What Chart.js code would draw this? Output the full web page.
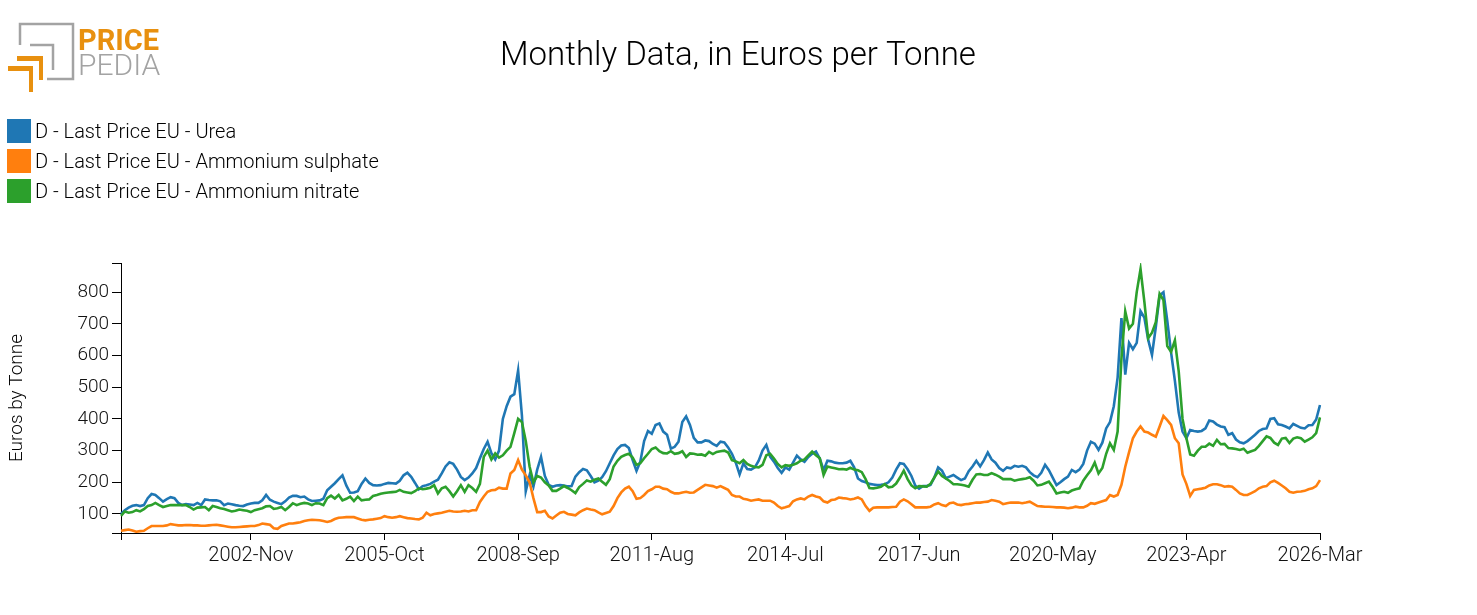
<!DOCTYPE html>
<html>
<head>
<meta charset="utf-8">
<script src="https://cdn.jsdelivr.net/npm/chart.js@4.4.1/dist/chart.umd.min.js"></script>
<style>
  body { margin: 0; background: #fff; }
  #wrap { width: 1477px; height: 615px; position: relative; }
</style>
</head>
<body>
<div id="wrap"><canvas id="chart" width="1477" height="615"></canvas></div>
<script>
// monthly values, 2000-Jan .. 2026-Mar
const urea = [
  100, 112, 120, 126, 128, 125, 128, 150, 163, 160, 150, 139,
  147, 153, 150, 135, 128, 131, 130, 128, 135, 128, 146, 144,
  143, 143, 140, 128, 133, 131, 128, 126, 125, 130, 133, 135,
  135, 143, 160, 145, 139, 135, 131, 140, 152, 157, 157, 153,
  155, 146, 141, 142, 143, 148, 175, 186, 197, 210, 222, 190,
  167, 168, 172, 195, 212, 198, 191, 190, 191, 195, 198, 197,
  196, 205, 222, 230, 217, 198, 178, 188, 191, 195, 202, 208,
  228, 250, 263, 258, 240, 217, 207, 215, 228, 245, 276, 305,
  328, 292, 272, 300, 400, 440, 470, 478, 553, 410, 172, 222,
  186, 240, 280, 220, 192, 186, 190, 191, 190, 187, 188, 218,
  232, 242, 238, 220, 200, 205, 216, 235, 260, 285, 305, 316,
  318, 308, 270, 236, 265, 330, 362, 353, 381, 386, 360, 350,
  306, 312, 328, 390, 408, 381, 340, 326, 326, 332, 330, 321,
  315, 328, 326, 310, 290, 262, 225, 260, 242, 240, 247, 268,
  300, 318, 281, 265, 245, 230, 247, 240, 262, 284, 272, 265,
  280, 290, 297, 275, 238, 268, 266, 262, 260, 260, 262, 268,
  247, 212, 204, 200, 195, 193, 191, 192, 194, 200, 215, 240,
  260, 258, 241, 220, 190, 180, 188, 188, 192, 215, 247, 237,
  213, 218, 223, 215, 207, 212, 235, 250, 268, 250, 270, 294,
  272, 262, 245, 236, 247, 244, 252, 249, 252, 247, 232, 222,
  216, 230, 255, 238, 215, 191, 200, 210, 218, 239, 232, 240,
  258, 300, 328, 322, 302, 325, 370, 390, 440, 530, 718, 540,
  640, 620, 640, 740, 720, 650, 602, 690, 790, 800, 710, 610,
  520, 420, 360, 339, 365, 362, 360, 362, 370, 395, 392, 382,
  376, 374, 350, 355, 335, 326, 323, 330, 340, 350, 362, 368,
  370, 400, 402, 383, 381, 376, 370, 384, 378, 372, 370, 380,
  381, 398, 444
];
const sulphate = [
  47, 49, 51, 48, 44, 46, 47, 55, 62, 62, 62, 62,
  64, 68, 66, 64, 64, 65, 65, 64, 64, 63, 63, 64,
  65, 66, 64, 62, 60, 58, 58, 59, 60, 61, 62, 62,
  65, 70, 68, 66, 55, 53, 62, 66, 70, 70, 72, 74,
  78, 80, 82, 81, 80, 78, 75, 78, 84, 88, 89, 90,
  90, 90, 86, 82, 80, 82, 83, 85, 87, 93, 90, 88,
  90, 93, 90, 87, 86, 84, 83, 88, 104, 96, 100, 102,
  104, 107, 110, 108, 107, 108, 110, 108, 112, 112, 138, 155,
  170, 175, 176, 183, 180, 180, 228, 239, 270, 240, 222, 200,
  150, 106, 106, 110, 92, 86, 95, 104, 107, 100, 98, 96,
  105, 112, 117, 114, 112, 105, 99, 103, 107, 125, 150, 168,
  180, 186, 172, 148, 150, 160, 172, 178, 186, 186, 180, 178,
  170, 165, 165, 168, 170, 167, 168, 176, 184, 192, 190, 188,
  183, 188, 182, 176, 160, 155, 155, 148, 146, 142, 144, 146,
  142, 142, 142, 136, 125, 118, 121, 125, 140, 146, 149, 146,
  155, 160, 155, 152, 140, 136, 144, 146, 152, 150, 149, 146,
  148, 152, 146, 125, 110, 120, 121, 121, 121, 121, 122, 123,
  139, 146, 140, 131, 121, 121, 121, 121, 123, 130, 134, 128,
  125, 134, 136, 130, 128, 131, 132, 134, 136, 136, 138, 139,
  144, 142, 139, 131, 134, 136, 136, 136, 134, 136, 139, 132,
  125, 124, 123, 123, 122, 121, 121, 120, 118, 120, 123, 121,
  121, 126, 134, 132, 136, 140, 144, 160, 155, 160, 192, 249,
  295, 339, 360, 376, 360, 357, 350, 344, 376, 409, 396, 381,
  339, 323, 225, 195, 157, 176, 178, 180, 183, 190, 194, 194,
  191, 186, 188, 186, 176, 165, 160, 160, 166, 172, 181, 186,
  188, 200, 205, 198, 190, 181, 170, 167, 170, 171, 173, 178,
  181, 188, 207
];
const nitrate = [
  94, 108, 104, 106, 112, 108, 115, 125, 128, 135, 128, 122,
  125, 128, 128, 128, 128, 128, 122, 114, 120, 121, 122, 112,
  125, 122, 118, 116, 112, 108, 110, 114, 112, 110, 106, 112,
  115, 118, 124, 125, 116, 118, 122, 112, 122, 134, 128, 132,
  135, 133, 128, 134, 133, 128, 150, 158, 149, 160, 143, 148,
  155, 141, 155, 143, 145, 146, 157, 160, 164, 166, 168, 169,
  170, 176, 170, 168, 166, 172, 181, 178, 180, 183, 191, 165,
  181, 186, 172, 155, 172, 191, 170, 191, 182, 170, 195, 280,
  300, 272, 291, 278, 285, 300, 312, 355, 400, 390, 330, 250,
  200, 220, 215, 200, 190, 173, 173, 180, 188, 182, 175, 166,
  185, 195, 206, 202, 208, 212, 202, 192, 210, 250, 268, 280,
  286, 290, 278, 255, 260, 276, 290, 305, 310, 298, 292, 291,
  298, 290, 292, 298, 280, 291, 290, 287, 288, 284, 296, 289,
  296, 298, 300, 294, 270, 266, 260, 270, 258, 252, 248, 247,
  255, 285, 290, 275, 258, 247, 254, 252, 255, 260, 268, 272,
  285, 297, 285, 276, 223, 250, 247, 244, 241, 242, 240, 246,
  240, 238, 232, 210, 182, 181, 183, 186, 194, 184, 186, 196,
  215, 237, 210, 190, 181, 188, 187, 186, 195, 215, 234, 220,
  212, 204, 194, 194, 192, 190, 186, 208, 225, 226, 223, 223,
  229, 224, 218, 210, 210, 210, 205, 208, 210, 212, 216, 205,
  190, 192, 197, 202, 185, 165, 168, 170, 167, 174, 178, 181,
  205, 222, 238, 262, 228, 245, 290, 323, 302, 360, 590, 739,
  685, 700, 800, 873, 770, 655, 672, 705, 795, 775, 630, 612,
  648, 550, 400, 340, 288, 284, 300, 312, 312, 322, 315, 334,
  320, 321, 308, 307, 305, 302, 306, 293, 298, 302, 315, 330,
  345, 340, 325, 318, 338, 340, 324, 338, 342, 339, 328, 335,
  342, 355, 405
];
const seriesNames = ['D - Last Price EU - Urea', 'D - Last Price EU - Ammonium sulphate', 'D - Last Price EU - Ammonium nitrate'];
const seriesColors = ['#1f77b4', '#ff7f0e', '#2ca02c'];
const tickLabels = ['2002-Nov', '2005-Oct', '2008-Sep', '2011-Aug', '2014-Jul', '2017-Jun', '2020-May', '2023-Apr', '2026-Mar'];
const yTicks = [100, 200, 300, 400, 500, 600, 700, 800];
const monthNames = ['Jan','Feb','Mar','Apr','May','Jun','Jul','Aug','Sep','Oct','Nov','Dec'];

const months = [];
for (let y = 2000; y <= 2026; y++) {
  for (let m = 0; m < 12; m++) {
    if (months.length < urea.length) months.push(y + '-' + monthNames[m]);
  }
}

const FONT = 'Roboto';
const yMin = 40, yMax = 892;

const decorations = {
  id: 'decorations',
  afterDraw(chart) {
    const ctx = chart.ctx;
    ctx.save();
    // title
    ctx.fillStyle = '#000';
    ctx.font = '300 33px ' + FONT;
    ctx.textAlign = 'center';
    ctx.textBaseline = 'middle';
    ctx.fillText('Monthly Data, in Euros per Tonne', 738, 57);

    // logo
    ctx.strokeStyle = '#a3a3a3';
    ctx.lineWidth = 2.5;
    ctx.beginPath();
    ctx.moveTo(20, 45); ctx.lineTo(20, 24); ctx.lineTo(73, 24); ctx.lineTo(73, 79); ctx.lineTo(47, 79);
    ctx.moveTo(30, 45); ctx.lineTo(53, 45); ctx.lineTo(53, 70);
    ctx.stroke();
    ctx.fillStyle = '#e8900f';
    ctx.fillRect(17, 56, 26, 5);
    ctx.fillRect(39, 56, 4, 24);
    ctx.fillRect(8, 66, 25, 5);
    ctx.fillRect(29, 66, 4, 26);
    ctx.textAlign = 'left';
    ctx.textBaseline = 'alphabetic';
    ctx.font = 'bold 29px ' + FONT;
    ctx.fillText('PRICE', 78, 50);
    ctx.fillStyle = '#a3a3a3';
    ctx.font = '300 30px ' + FONT;
    ctx.fillText('PEDIA', 78, 75);

    // legend
    ctx.textBaseline = 'middle';
    ctx.font = '300 20px ' + FONT;
    seriesNames.forEach((name, k) => {
      ctx.fillStyle = seriesColors[k];
      ctx.fillRect(7, 119 + k * 30, 24, 24);
      ctx.fillStyle = '#000';
      ctx.fillText(name, 35, 133 + k * 30);
    });

    // y axis title
    ctx.translate(17, 398);
    ctx.rotate(-Math.PI / 2);
    ctx.textAlign = 'center';
    ctx.font = '300 19px ' + FONT;
    ctx.fillText('Euros by Tonne', 0, 0);
    ctx.restore();
  }
};

const datasets = [urea, sulphate, nitrate].map((d, k) => ({
  label: seriesNames[k],
  data: d,
  borderColor: seriesColors[k],
  backgroundColor: seriesColors[k],
  borderWidth: 2.6,
  pointRadius: 0,
  tension: 0,
  fill: false,
  order: 3 - k
}));

new Chart(document.getElementById('chart'), {
  type: 'line',
  data: { labels: months, datasets: datasets },
  options: {
    responsive: false,
    animation: false,
    devicePixelRatio: 1,
    layout: { padding: { top: 263, right: 157, left: 0, bottom: 0 } },
    plugins: { legend: { display: false }, tooltip: { enabled: false } },
    scales: {
      x: {
        type: 'category',
        offset: false,
        afterFit: s => { s.height = 82; },
        afterBuildTicks: s => {
          s.ticks = s.ticks.filter(t => t.value === 0 || tickLabels.includes(months[t.value]));
        },
        border: { display: true, color: '#000', width: 1 },
        grid: { display: true, drawOnChartArea: false, drawTicks: true, tickLength: 7, tickColor: '#000' },
        ticks: {
          autoSkip: false,
          maxRotation: 0,
          padding: 4,
          color: '#111',
          font: { family: FONT, size: 20, weight: '300' },
          callback: v => (v === 0 ? '' : months[v])
        }
      },
      y: {
        type: 'linear',
        min: yMin,
        max: yMax,
        afterFit: s => { s.width = 121; },
        afterBuildTicks: s => {
          s.ticks = [yMin].concat(yTicks, [yMax]).map(v => ({ value: v }));
        },
        border: { display: true, color: '#000', width: 1 },
        grid: { display: true, drawOnChartArea: false, drawTicks: true, tickLength: 9, tickColor: '#000' },
        ticks: {
          padding: 3,
          color: '#111',
          font: { family: FONT, size: 19, weight: '300' },
          callback: v => (yTicks.includes(v) ? String(v) : '')
        }
      }
    }
  },
  plugins: [decorations]
});
</script>
</body>
</html>
